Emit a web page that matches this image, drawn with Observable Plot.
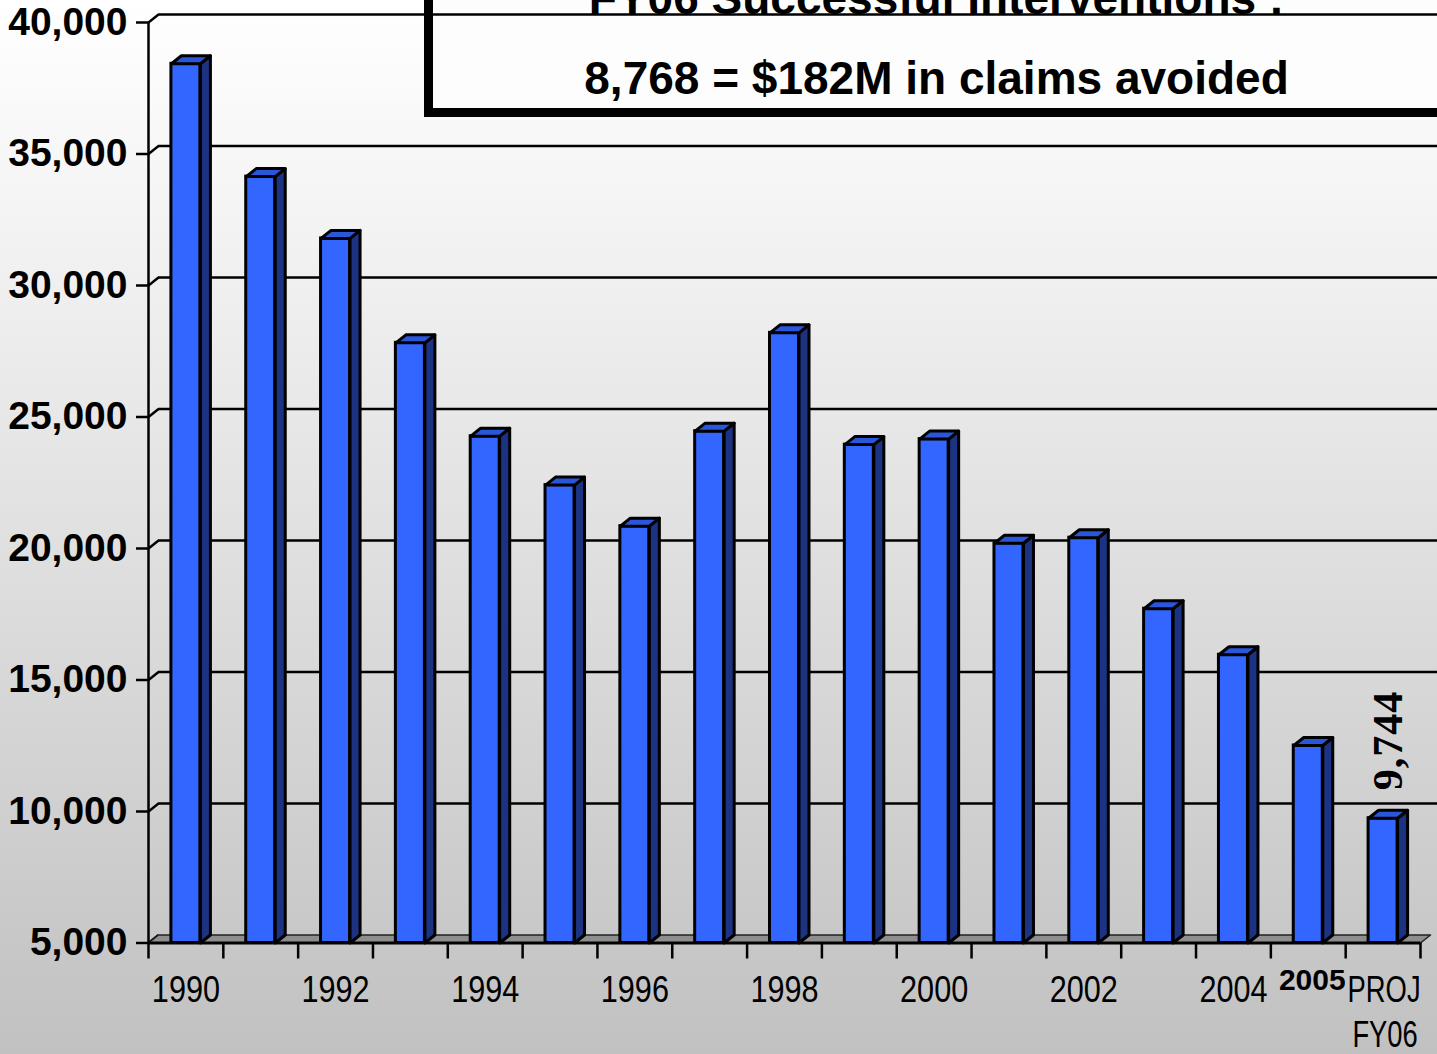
<!DOCTYPE html>
<html>
<head>
<meta charset="utf-8">
<script src="https://cdn.jsdelivr.net/npm/d3@7"></script>
<script src="https://cdn.jsdelivr.net/npm/@observablehq/plot@0.6"></script>
<style>
  html, body { margin: 0; padding: 0; background: #c0c0c0; }
  #chart { width: 1437px; height: 1054px; overflow: hidden; }
</style>
</head>
<body>
<div id="chart"></div>
<script>
// ---------------- data ----------------
const categories = ["1990","1991","1992","1993","1994","1995","1996","1997","1998","1999","2000","2001","2002","2003","2004","2005","PROJ FY06"];
const claims = [38430, 34140, 31790, 27820, 24270, 22410, 20850, 24460, 28200, 23950, 24160, 20200, 20410, 17710, 15960, 12510, 9744];
const yTicks = [5000, 10000, 15000, 20000, 25000, 30000, 35000, 40000];
const xTickLabels = ["1990","","1992","","1994","","1996","","1998","","2000","","2002","","2004","",""];
const boldTickLabel = ["2005"];
const projTickLabel = ["PROJ", "FY06"];
const valueLabel = ["9,744"];
const titleLines = ["FY06 Successful Interventions :", "8,768 = $182M in claims avoided"];

// ---------------- layout ----------------
const W = 1437, H = 1054, ML = 148, MR = 17, MT = 22, MB = 111.5;
const n = categories.length;
const yMin = yTicks[0], yMax = yTicks[yTicks.length - 1];
const pxX = (W - ML - MR) / n;
const pxY = (H - MT - MB) / (yMax - yMin);
const DX = 10 / pxX;     // 3-D depth (x) in data units
const DY = 8 / pxY;      // 3-D depth (y) in data units
const HALF = 14.5 / pxX; // half bar width in data units

const bars = categories.map((c, i) => ({i, c, v: claims[i], x1: i + 0.5 - HALF, x2: i + 0.5 + HALF}));
const poly = (id, pts) => pts.concat([pts[0]]).map(([x, y]) => ({id, x, y}));
const sidePts = bars.flatMap(b => poly(b.i, [[b.x2, yMin], [b.x2, b.v], [b.x2 + DX, b.v + DY], [b.x2 + DX, yMin + DY]]));
const topPts = bars.flatMap(b => poly(b.i, [[b.x1, b.v], [b.x2, b.v], [b.x2 + DX, b.v + DY], [b.x1 + DX, b.v + DY]]));
const floorPts = poly(0, [[0, yMin], [n, yMin], [n + DX, yMin + DY], [DX, yMin + DY]]);

const sans = "Liberation Sans, Arial, sans-serif";
const serif = "'Liberation Serif', serif";

const titleBox = () => {
  const g = d3.create("svg:g");
  g.append("rect").attr("x", 428.5).attr("y", -100).attr("width", 2000).attr("height", 212.5)
    .attr("fill", "#fdfdfd").attr("stroke", "black").attr("stroke-width", 9);
  return g.node();
};

const chart = Plot.plot({
  width: W, height: H,
  marginLeft: ML, marginRight: MR, marginTop: MT, marginBottom: MB,
  style: {background: "linear-gradient(to bottom, #ffffff 0%, #f4f4f4 20%, #c1c1c1 100%)", overflow: "hidden"},
  x: {type: "linear", domain: [0, n]},
  y: {domain: [yMin, yMax]},
  marks: [
    titleBox,
    Plot.text([titleLines[0]], {text: d => d, frameAnchor: "top-left", dx: 936 - ML, dy: 13 - MT, lineAnchor: "bottom", textAnchor: "middle", fontSize: 46, fontWeight: "bold", fontFamily: sans, fill: "black"}),
    Plot.text([titleLines[1]], {text: d => d, frameAnchor: "top-left", dx: 936 - ML, dy: 93 - MT, lineAnchor: "bottom", textAnchor: "middle", fontSize: 46, fontWeight: "bold", fontFamily: sans, fill: "black"}),
    // back-wall gridlines
    Plot.ruleY(yTicks.slice(1), {y: d => d + DY, x1: () => DX, x2: () => n + 1, stroke: "black", strokeWidth: 2.5}),
    Plot.link(yTicks, {x1: () => 0, y1: d => d, x2: () => DX, y2: d => d + DY, stroke: "black", strokeWidth: 2.5}),
    // floor
    Plot.line(floorPts, {x: "x", y: "y", z: "id", fill: "#8e8e8e", stroke: "#222", strokeWidth: 1.5}),
    // bars
    Plot.rect(bars, {x1: "x1", x2: "x2", y1: () => yMin, y2: "v", fill: "#3366ff", stroke: "black", strokeWidth: 3}),
    Plot.line(sidePts, {x: "x", y: "y", z: "id", fill: "#1b3382", stroke: "black", strokeWidth: 3, strokeLinejoin: "round"}),
    Plot.line(topPts, {x: "x", y: "y", z: "id", fill: "#2a56d9", stroke: "black", strokeWidth: 3, strokeLinejoin: "round"}),
    // axes
    Plot.ruleX([0], {y1: () => yMin, y2: () => yMax, stroke: "black", strokeWidth: 2.5}),
    Plot.ruleY([yMin], {x1: () => 0, x2: () => n, stroke: "black", strokeWidth: 3}),
    Plot.axisY({ticks: yTicks, tickFormat: d3.format(","), tickSize: 12, tickPadding: 9, fontSize: 39, fontWeight: "bold", fontFamily: sans, stroke: "black", strokeWidth: 2.5, fill: "black", label: null}),
    Plot.axisX({ticks: d3.range(n + 1), tickFormat: () => "", tickSize: 16, tickPadding: 0, stroke: "black", strokeWidth: 2.5, label: null}),
    // category labels
    Plot.text(bars.filter(b => xTickLabels[b.i] !== ""), {x: b => b.i + 0.5, text: b => xTickLabels[b.i], frameAnchor: "bottom", dy: 47.5, lineAnchor: "middle", fontSize: 36, fontFamily: sans, fill: "black"}),
    Plot.text(bars.filter(b => b.c === boldTickLabel[0]), {x: b => b.i + 0.5, text: () => boldTickLabel[0], frameAnchor: "bottom", dx: 4, dy: 37.5, lineAnchor: "middle", fontSize: 30, fontWeight: "bold", fontFamily: sans, fill: "black"}),
    Plot.text(bars.filter(b => b.i === n - 1), {x: b => b.i + 0.5, text: () => projTickLabel[0], frameAnchor: "bottom", dx: 1, dy: 47.5, lineAnchor: "middle", fontSize: 36, fontFamily: sans, fill: "black"}),
    Plot.text(bars.filter(b => b.i === n - 1), {x: b => b.i + 0.5, text: () => projTickLabel[1], frameAnchor: "bottom", dx: 2, dy: 92.5, lineAnchor: "middle", fontSize: 36, fontFamily: sans, fill: "black"}),
    // value label on projected bar
    Plot.text(bars.filter(b => b.i === n - 1), {x: b => b.i + 0.5, y: "v", text: () => valueLabel[0], rotate: -90, textAnchor: "start", lineAnchor: "middle", dx: 5, dy: -28, fontSize: 42, fontWeight: "bold", fontFamily: serif, fill: "black"})
  ]
});
document.getElementById("chart").appendChild(chart);

// condensed look for the category labels (narrow face is not installed); serif for the value label
const yearSet = new Set(xTickLabels.filter(d => d !== ""));
const projSet = new Set(projTickLabel);
d3.select(chart).selectAll("text").each(function () {
  const t = this.textContent.trim();
  const k = yearSet.has(t) ? 0.85 : projSet.has(t) ? 0.76 : null;
  if (k) {
    const w = this.getComputedTextLength();
    this.setAttribute("textLength", (w * k).toFixed(1));
    this.setAttribute("lengthAdjust", "spacingAndGlyphs");
  }
  if (valueLabel.includes(t)) {
    this.style.fontFamily = "'Liberation Serif', serif";
    this.style.fontWeight = "bold";
    this.style.letterSpacing = "1px";
  }
});
</script>
</body>
</html>
